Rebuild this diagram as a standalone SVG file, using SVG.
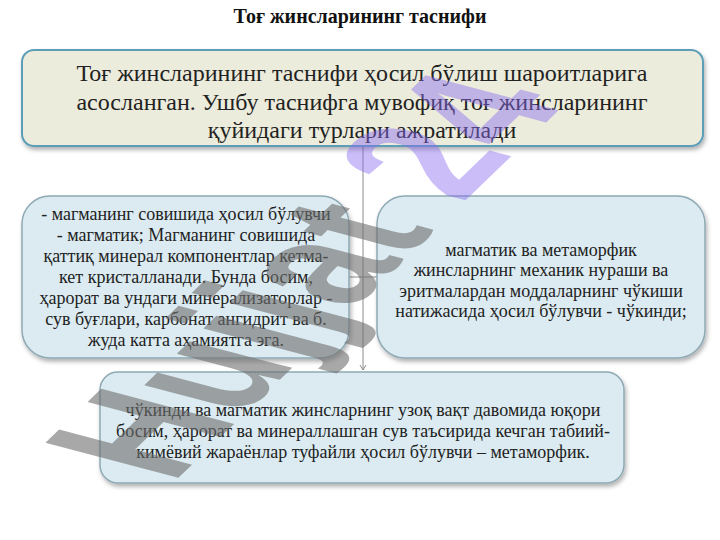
<svg xmlns="http://www.w3.org/2000/svg" width="720" height="540" viewBox="0 0 720 540">
<style>
.title{font-family:"Liberation Serif","Times New Roman",serif;font-weight:bold;font-size:20px;fill:#111;text-anchor:middle}
.big{font-family:"Liberation Serif","Times New Roman",serif;font-size:24px;fill:#222;text-anchor:middle}
.t{font-family:"Liberation Serif","Times New Roman",serif;font-size:18px;fill:#222;text-anchor:middle}
.topbox{fill:#ececdc;stroke:#5b9db8;stroke-width:2}
.box{fill:#dbebf1;stroke:#8ea9b4;stroke-width:1.5}
.conn{stroke:#8c8c8c;stroke-width:1;fill:none}
.wm{font-family:"Liberation Sans",Arial,sans-serif;font-weight:bold;font-size:200px}
</style>
<defs>
<filter id="sh" x="-10%" y="-10%" width="120%" height="130%">
<feDropShadow dx="1.5" dy="3" stdDeviation="2" flood-color="#000" flood-opacity="0.3"/>
</filter>
<marker id="arr" markerWidth="8" markerHeight="8" refX="6" refY="4" orient="auto" markerUnits="userSpaceOnUse">
<path d="M1,1 L6,4 L1,7" fill="none" stroke="#8c8c8c" stroke-width="1"/>
</marker>
</defs>
<rect width="720" height="540" fill="#fff"/>
<text class="title" x="360" y="23">Тоғ жинсларининг таснифи</text>
<g id="connectors">
<line class="conn" x1="363" y1="146" x2="363" y2="370" marker-end="url(#arr)"/>
<line class="conn" x1="349" y1="277" x2="377" y2="277"/>
</g>
<g id="node-top">
<rect class="topbox" x="22" y="50" width="681" height="96" rx="12" filter="url(#sh)"/>
<text class="big" x="362" y="81">Тоғ жинсларининг таснифи ҳосил бўлиш шароитларига</text>
<text class="big" x="362" y="110">асосланган. Ушбу таснифга мувофиқ тоғ жинсларининг</text>
<text class="big" x="362" y="138">қуйидаги турлари ажратилади</text>
</g>
<g id="node-magmatic">
<rect class="box" x="22" y="196" width="327" height="162" rx="28" filter="url(#sh)"/>
<text class="t" x="186" y="220">- магманинг совишида ҳосил бўлувчи</text>
<text class="t" x="186" y="241">- магматик; Магманинг совишида</text>
<text class="t" x="186" y="262">қаттиқ минерал компонентлар кетма-</text>
<text class="t" x="186" y="283">кет кристалланади. Бунда босим,</text>
<text class="t" x="186" y="304">ҳарорат ва ундаги минерализаторлар -</text>
<text class="t" x="186" y="325">сув буғлари, карбонат ангидрит ва б.</text>
<text class="t" x="186" y="346">жуда катта аҳамиятга эга.</text>
</g>
<g id="node-sedimentary">
<rect class="box" x="377" y="196" width="328" height="162" rx="28" filter="url(#sh)"/>
<text class="t" x="541" y="256">магматик ва метаморфик</text>
<text class="t" x="541" y="276">жинсларнинг механик нураши ва</text>
<text class="t" x="541" y="297">эритмалардан моддаларнинг чўкиши</text>
<text class="t" x="541" y="317">натижасида ҳосил бўлувчи - чўкинди;</text>
</g>
<g id="node-metamorphic">
<rect class="box" x="100" y="372" width="524" height="111" rx="18" filter="url(#sh)"/>
<text class="t" x="363" y="416">чўкинди ва магматик жинсларнинг узоқ вақт давомида юқори</text>
<text class="t" x="363" y="437">босим, ҳарорат ва минераллашган сув таъсирида кечган табиий-</text>
<text class="t" x="363" y="458">кимёвий жараёнлар туфайли ҳосил бўлувчи – метаморфик.</text>
</g>
<g id="watermark">
<text class="wm" transform="matrix(0.475 -0.459 0.966 0.255 172 484)"><tspan fill="#6e6e6e" fill-opacity="0.6">Hujjat</tspan><tspan fill="#8a6cf0" fill-opacity="0.45"> 24</tspan></text>
</g>
</svg>
